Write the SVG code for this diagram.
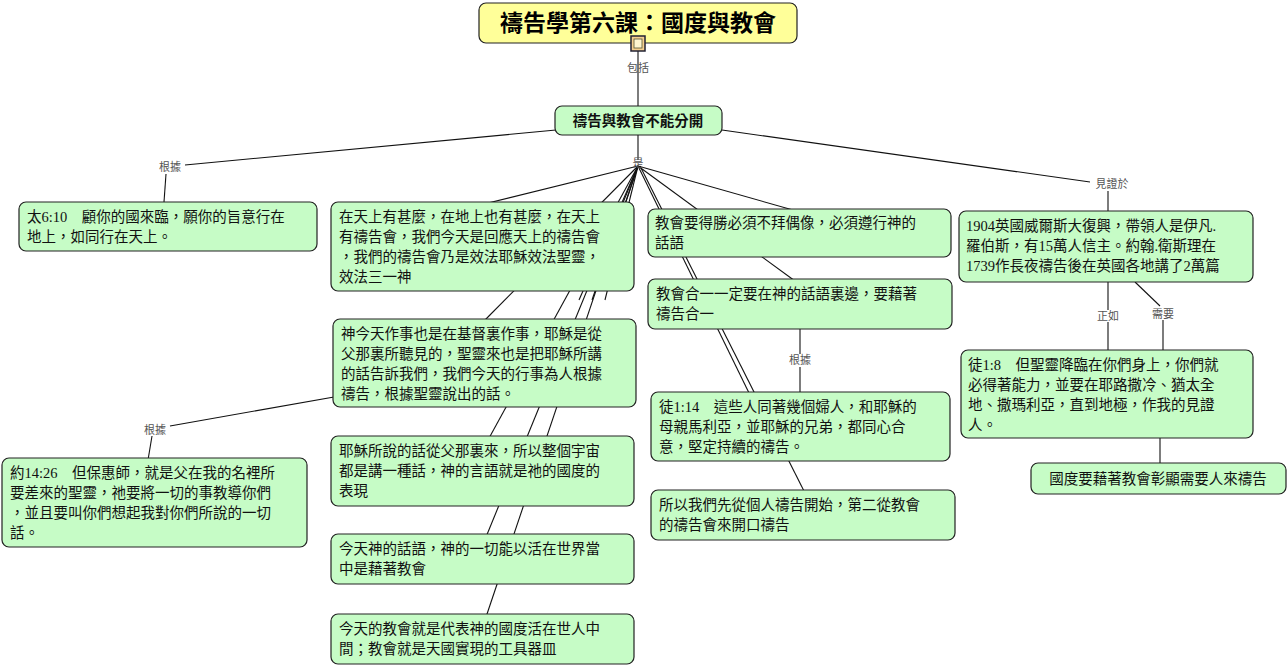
<svg xmlns="http://www.w3.org/2000/svg" width="1288" height="668" viewBox="0 0 1288 668">
<style>
.n{fill:#c6fcc6;stroke:#222;stroke-width:1.2}
.t{font-family:"Liberation Serif","Noto Sans CJK TC",serif;font-size:14.5px;fill:#111}
.l{font-family:"Liberation Sans","Noto Sans CJK TC",sans-serif;font-size:11px;fill:#555;text-anchor:middle}
.c line,.c polyline{stroke:#111;stroke-width:1.1;fill:none}
</style>
<rect width="1288" height="668" fill="#fff"/>
<g class="c">
<line x1="638" y1="43" x2="638" y2="106"/>
<line x1="638" y1="135" x2="638" y2="160"/>
<polyline points="556,130 185,165"/><line x1="166" y1="174" x2="164" y2="202"/>
<polyline points="722,130 1090,182"/><line x1="1108" y1="191" x2="1108" y2="211"/>
<line x1="638" y1="166" x2="480" y2="205"/>
<line x1="638" y1="166" x2="484" y2="321"/>
<line x1="638" y1="166" x2="488" y2="440"/>
<line x1="638" y1="166" x2="486" y2="537"/>
<line x1="638" y1="166" x2="486" y2="617"/>
<line x1="638" y1="166" x2="605" y2="300"/>
<line x1="638" y1="166" x2="592" y2="300"/>
<line x1="638" y1="166" x2="579" y2="300"/>
<line x1="638" y1="166" x2="800" y2="212"/>
<line x1="638" y1="166" x2="795" y2="281"/>
<line x1="638" y1="166" x2="750" y2="395"/>
<line x1="640" y1="166" x2="805" y2="493"/>
<line x1="334" y1="397" x2="170" y2="426"/><line x1="152" y1="436" x2="148" y2="460"/>
<line x1="800" y1="329" x2="800" y2="354"/><line x1="800" y1="367" x2="800" y2="393"/>
<line x1="1108" y1="282" x2="1108" y2="310"/><line x1="1108" y1="322" x2="1108" y2="350"/>
<line x1="1135" y1="282" x2="1160" y2="306"/><line x1="1163" y1="320" x2="1163" y2="350"/>
<line x1="1160" y1="438" x2="1160" y2="464"/>
</g>
<g class="l">
<text x="638" y="72">包括</text>
<text x="638" y="167">是</text>
<text x="170" y="171">根據</text>
<text x="1112" y="188">見證於</text>
<text x="155" y="434">根據</text>
<text x="800" y="364">根據</text>
<text x="1108" y="320">正如</text>
<text x="1163" y="318">需要</text>
</g>
<g id="title"><rect x="479" y="3" width="318" height="40" rx="7" fill="#ffff99" stroke="#222" stroke-width="1.2"/>
<text x="638" y="31" text-anchor="middle" style="font-family:'Liberation Serif','Noto Sans CJK TC',serif;font-size:23px;font-weight:bold">禱告學第六課：國度與教會</text>
<rect x="631" y="36" width="14" height="15" fill="#f5d090" stroke="#223" stroke-width="1.5"/><rect x="634" y="39" width="8" height="9" fill="#fff6d0" stroke="#553" stroke-width="0.8"/></g>
<g id="root"><rect class="n" x="555" y="106" width="167" height="29" rx="7"/><text class="t" x="638" y="126" text-anchor="middle" font-weight="bold">禱告與教會不能分開</text></g>
<g id="m6"><rect class="n" x="19" y="202" width="298" height="49" rx="7"/><text class="t"><tspan x="27" y="222">太6:10　顧你的國來臨，願你的旨意行在</tspan><tspan x="27" y="242">地上，如同行在天上。</tspan></text></g>
<g id="n1"><rect class="n" x="331" y="202" width="303" height="89" rx="7"/><text class="t"><tspan x="339" y="222">在天上有甚麼，在地上也有甚麼，在天上</tspan><tspan x="339" y="242">有禱告會，我們今天是回應天上的禱告會</tspan><tspan x="339" y="262">，我們的禱告會乃是效法耶穌效法聖靈，</tspan><tspan x="339" y="282">效法三一神</tspan></text></g>
<g id="n2"><rect class="n" x="333" y="319" width="303" height="88" rx="7"/><text class="t"><tspan x="341" y="339">神今天作事也是在基督裏作事，耶穌是從</tspan><tspan x="341" y="359">父那裏所聽見的，聖靈來也是把耶穌所講</tspan><tspan x="341" y="379">的話告訴我們，我們今天的行事為人根據</tspan><tspan x="341" y="399">禱告，根據聖靈說出的話。</tspan></text></g>
<g id="n3"><rect class="n" x="331" y="436" width="303" height="70" rx="7"/><text class="t"><tspan x="339" y="456">耶穌所說的話從父那裏來，所以整個宇宙</tspan><tspan x="339" y="476">都是講一種話，神的言語就是祂的國度的</tspan><tspan x="339" y="496">表現</tspan></text></g>
<g id="n4"><rect class="n" x="331" y="534" width="303" height="50" rx="7"/><text class="t"><tspan x="339" y="554">今天神的話語，神的一切能以活在世界當</tspan><tspan x="339" y="574">中是藉著教會</tspan></text></g>
<g id="n5"><rect class="n" x="331" y="614" width="303" height="50" rx="7"/><text class="t"><tspan x="339" y="634">今天的教會就是代表神的國度活在世人中</tspan><tspan x="339" y="654">間；教會就是天國實現的工具器皿</tspan></text></g>
<g id="j14"><rect class="n" x="2" y="458" width="305" height="89" rx="7"/><text class="t"><tspan x="10" y="478">約14:26　但保惠師，就是父在我的名裡所</tspan><tspan x="10" y="498">要差來的聖靈，祂要將一切的事教導你們</tspan><tspan x="10" y="518">，並且要叫你們想起我對你們所說的一切</tspan><tspan x="10" y="538">話。</tspan></text></g>
<g id="r1"><rect class="n" x="648" y="209" width="303" height="48" rx="7"/><text class="t"><tspan x="655" y="228">教會要得勝必須不拜偶像，必須遵行神的</tspan><tspan x="655" y="248">話語</tspan></text></g>
<g id="r2"><rect class="n" x="648" y="279" width="304" height="50" rx="7"/><text class="t"><tspan x="656" y="299">教會合一一定要在神的話語裏邊，要藉著</tspan><tspan x="656" y="319">禱告合一</tspan></text></g>
<g id="r3"><rect class="n" x="651" y="392" width="299" height="69" rx="7"/><text class="t"><tspan x="659" y="412">徒1:14　這些人同著幾個婦人，和耶穌的</tspan><tspan x="659" y="432">母親馬利亞，並耶穌的兄弟，都同心合</tspan><tspan x="659" y="452">意，堅定持續的禱告。</tspan></text></g>
<g id="r4"><rect class="n" x="651" y="490" width="304" height="50" rx="7"/><text class="t"><tspan x="659" y="510">所以我們先從個人禱告開始，第二從教會</tspan><tspan x="659" y="530">的禱告會來開口禱告</tspan></text></g>
<g id="w1"><rect class="n" x="959" y="211" width="294" height="71" rx="7"/><text class="t"><tspan x="966" y="231">1904英國威爾斯大復興，帶領人是伊凡.</tspan><tspan x="966" y="251">羅伯斯，有15萬人信主。約翰.衛斯理在</tspan><tspan x="966" y="271">1739作長夜禱告後在英國各地講了2萬篇</tspan></text></g>
<g id="w2"><rect class="n" x="961" y="350" width="292" height="88" rx="7"/><text class="t"><tspan x="968" y="370">徒1:8　但聖靈降臨在你們身上，你們就</tspan><tspan x="968" y="390">必得著能力，並要在耶路撒冷、猶太全</tspan><tspan x="968" y="410">地、撒瑪利亞，直到地極，作我的見證</tspan><tspan x="968" y="430">人。</tspan></text></g>
<g id="w3"><rect class="n" x="1031" y="463" width="255" height="31" rx="7"/><text class="t" x="1158" y="484" text-anchor="middle">國度要藉著教會彰顯需要人來禱告</text></g>
</svg>
